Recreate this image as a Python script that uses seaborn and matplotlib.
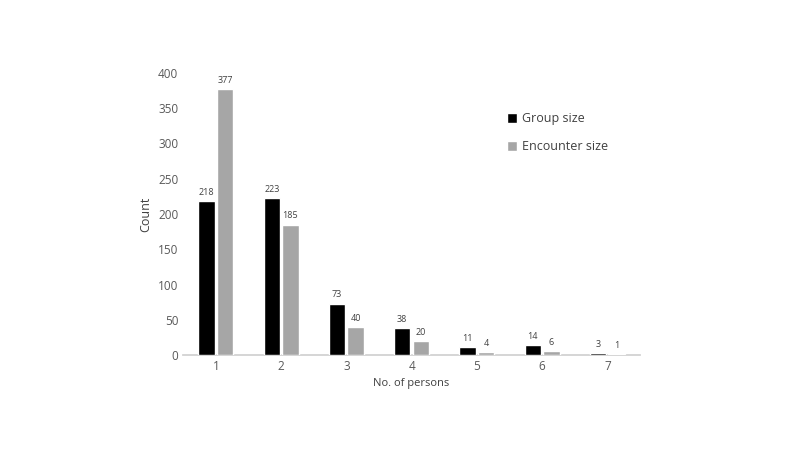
import pandas as pd
import matplotlib.pyplot as plt
import seaborn as sns

persons = ["1", "2", "3", "4", "5", "6", "7"]
group_size = [218, 223, 73, 38, 11, 14, 3]
encounter_size = [377, 185, 40, 20, 4, 6, 1]

sns.set_theme(style="white")
plt.rcParams['font.family'] = ['Open Sans', 'DejaVu Sans']

df = pd.DataFrame({
    "persons": persons * 2,
    "count": group_size + encounter_size,
    "series": ["Group size"] * 7 + ["Encounter size"] * 7,
})

fig = plt.figure(figsize=(8, 4.5), dpi=100)
ax = fig.add_axes([0.229, 0.211, 0.571, 0.627])
ax.spines["bottom"].set_zorder(0)
sns.barplot(data=df, x="persons", y="count", hue="series",
            palette={"Group size": "#000000", "Encounter size": "#a6a6a6"},
            width=0.57, gap=0.12, ax=ax, zorder=3)

for cont in ax.containers:
    ax.bar_label(cont, padding=3, fontsize=6.5, color="#404040")

ax.set_ylim(0, 400)
ax.set_yticks(range(0, 401, 50))
ax.set_xlim(-0.5, 6.5)
ax.set_xlabel("No. of persons", fontsize=8, color="#404040")
ax.set_ylabel("Count", fontsize=9, color="#404040")
ax.tick_params(axis='both', labelsize=8.5, colors="#595959", length=0)
for s in ["top", "right", "left"]:
    ax.spines[s].set_visible(False)
ax.spines["bottom"].set_color("#d0d0d0")

ax.legend(loc="upper left", bbox_to_anchor=(0.685, 0.9), frameon=False,
          fontsize=9, handlelength=0.75, handleheight=0.75, labelspacing=1.2,
          handletextpad=0.4, labelcolor="#404040")

fig.savefig("out.png", dpi=100)
